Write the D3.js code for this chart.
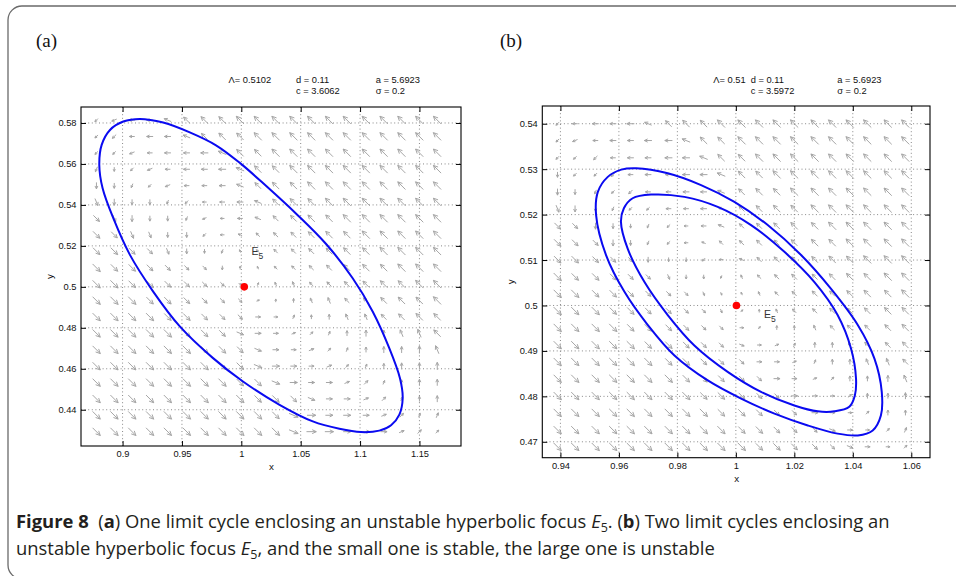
<!DOCTYPE html>
<html>
<head>
<meta charset="utf-8">
<script src="https://cdn.jsdelivr.net/npm/d3@7"></script>
<style>
body { margin: 0; background: #fff; }
svg { display: block; }
text { font-family: "Liberation Sans", Arial, sans-serif; }
</style>
</head>
<body>
<svg id="fig" width="956" height="576"></svg>
<script>

// ---- panel (a) data ----
var xTicksA = [0.9, 0.95, 1, 1.05, 1.1, 1.15];
var yTicksA = [0.44, 0.46, 0.48, 0.5, 0.52, 0.54, 0.56, 0.58];
var gridXA = [0.878, 0.893, 0.908, 0.923, 0.938, 0.954, 0.969, 0.984, 0.999, 1.014,
              1.029, 1.044, 1.059, 1.074, 1.089, 1.105, 1.120, 1.135, 1.150, 1.165];
var gridYA = [0.5814, 0.5734, 0.5654, 0.5574, 0.5494, 0.5414, 0.5334, 0.5254, 0.5174, 0.5093,
              0.5013, 0.4933, 0.4853, 0.4773, 0.4693, 0.4613, 0.4533, 0.4453, 0.4373, 0.4293];
// arrow direction per cell, hex digit k -> k*22.5 deg (0 = east, 4 = north)
var dirA = [
  "a9887666666666666666",
  "aa888766666666666666",
  "aa988887666666666666",
  "bca98888766666666666",
  "ccba9888766666666666",
  "dcccba88876666666666",
  "edcccb98876666666666",
  "eeddcca8766666666666",
  "eeeedccb566666666666",
  "eeeeeeec456666666666",
  "eeeeeeeef35566666666",
  "eeeeeeeee14455666666",
  "eeeeeeeee00344556666",
  "eeeeeeeef00123444556",
  "eeeeeeeeef0012344445",
  "eeeeeeeeef0001234444",
  "eeeeeeeeeef000123444",
  "eeeeeeeeeeeef0012344",
  "eeeeeeeeeeef00001233",
  "eeeeeeeeeeef00000122"
];
// arrow length per cell, 0..9
var lenA = [
  "34556788999999999999",
  "34455678899999999999",
  "33445567889999999999",
  "43344556788999999999",
  "54334445678899999999",
  "65443334567889999999",
  "76544333456788999999",
  "87654433345678899999",
  "88765433234567889999",
  "98876543223456788999",
  "99887654223445678899",
  "99988765422345567889",
  "99998876543334556788",
  "99999887654333455678",
  "99999988765443345567",
  "99999998876544334556",
  "99999999887655443455",
  "99999999988765544345",
  "99999999998876654434",
  "99999999999887665443"
];
var cycleA = [
  [0.9146, 0.5820], [0.9342, 0.5802], [0.9566, 0.5754], [0.9787, 0.5691], [1.0000, 0.5599],
  [1.0210, 0.5492], [1.0462, 0.5357], [1.0714, 0.5209], [1.0938, 0.5042], [1.1106, 0.4880],
  [1.1246, 0.4701], [1.1336, 0.4554], [1.1359, 0.4457], [1.1331, 0.4376], [1.1261, 0.4324],
  [1.1162, 0.4298], [1.1008, 0.4291], [1.0826, 0.4307], [1.0602, 0.4343], [1.0322, 0.4424],
  [1.0014, 0.4538], [0.9762, 0.4652], [0.9482, 0.4807], [0.9258, 0.4977], [0.9062, 0.5156],
  [0.8922, 0.5335], [0.8832, 0.5481], [0.8804, 0.5595], [0.8824, 0.5693], [0.8894, 0.5766],
  [0.9006, 0.5807]
];
var focusA = [1.0025, 0.5];
var paramsA = [["\u039b= 0.5102", "d = 0.11", "a = 5.6923"], ["", "c = 3.6062", "\u03c3 = 0.2"]];

// ---- panel (b) data ----
var xTicksB = [0.94, 0.96, 0.98, 1, 1.02, 1.04, 1.06];
var yTicksB = [0.47, 0.48, 0.49, 0.5, 0.51, 0.52, 0.53, 0.54];
var gridXB = [0.939, 0.945, 0.952, 0.958, 0.964, 0.970, 0.977, 0.983, 0.989, 0.995,
              1.002, 1.008, 1.014, 1.020, 1.027, 1.033, 1.039, 1.045, 1.052, 1.058];
var gridYB = [0.5400, 0.5363, 0.5325, 0.5288, 0.5250, 0.5213, 0.5175, 0.5138, 0.5101, 0.5063,
              0.5026, 0.4988, 0.4951, 0.4913, 0.4876, 0.4839, 0.4801, 0.4764, 0.4726, 0.4689];
var dirB = [
  "a8888766666666666666",
  "a9888887666666666666",
  "aaa88888766666666666",
  "caaa8888876666666666",
  "ccbaa888876666666666",
  "dccbaa88876666666666",
  "eecccba8876666666666",
  "eeeccba8766666666666",
  "eeeeeccca87666666666",
  "eeeeeedccb5666666666",
  "eeeeeeeedd5566666666",
  "eeeeeeeeed2456666666",
  "eeeeeeeeee0244566666",
  "eeeeeeeeeef013445666",
  "eeeeeeeeeee001344556",
  "eeeeeeeeeeee00124445",
  "eeeeeeeeeeeee0002444",
  "eeeeeeeeeeeeee000244",
  "eeeeeeeeeeeeeeef0023",
  "eeeeeeeeeeeeeeeef002"
];
var lenB = [
  "34556678899999999999",
  "34455667889999999999",
  "33445566788999999999",
  "43344556678899999999",
  "54334445567889999999",
  "65433344556788999999",
  "76543333455678899999",
  "87654333345667889999",
  "88765433334566788999",
  "98876543323456678899",
  "99887654322345667889",
  "99988765432234566788",
  "99998876543233456678",
  "99999887654333445667",
  "99999988765443344566",
  "99999998876554334456",
  "99999999887655433445",
  "99999999988765543344",
  "99999999998876554334",
  "99999999999887655433"
];
var cycleBOuter = [
  [0.9659, 0.5302], [0.9767, 0.5291], [0.9881, 0.5265], [0.9995, 0.5228], [1.0109, 0.5177],
  [1.0223, 0.5111], [1.0325, 0.5037], [1.0417, 0.4957], [1.0474, 0.4883], [1.0499, 0.4810],
  [1.0496, 0.4758], [1.0468, 0.4725], [1.0417, 0.4714], [1.0348, 0.4718], [1.0246, 0.4736],
  [1.0132, 0.4762], [1.0018, 0.4795], [0.9904, 0.4835], [0.9790, 0.4890], [0.9699, 0.4957],
  [0.9619, 0.5030], [0.9556, 0.5111], [0.9522, 0.5199], [0.9528, 0.5250], [0.9562, 0.5283],
  [0.9608, 0.5299]
];
var cycleBInner = [
  [0.9710, 0.5244], [0.9824, 0.5239], [0.9938, 0.5217], [1.0052, 0.5177], [1.0166, 0.5118],
  [1.0268, 0.5052], [1.0348, 0.4979], [1.0394, 0.4905], [1.0411, 0.4839], [1.0407, 0.4802],
  [1.0388, 0.4777], [1.0337, 0.4767], [1.0280, 0.4767], [1.0200, 0.4780], [1.0086, 0.4810],
  [0.9972, 0.4854], [0.9858, 0.4912], [0.9767, 0.4979], [0.9687, 0.5052], [0.9630, 0.5125],
  [0.9607, 0.5184], [0.9617, 0.5214], [0.9647, 0.5236]
];
var focusB = [1.0002, 0.5];
var paramsB = [["\u039b= 0.51", "d = 0.11", "a = 5.6923"], ["", "c = 3.5972", "\u03c3 = 0.2"]];

var captionLines = [
  [["Figure 8", "b"], ["  (", ""], ["a", "b"], [") One limit cycle enclosing an unstable hyperbolic focus ", ""],
   ["E", "i"], ["5", "s"], [". (", ""], ["b", "b"], [") Two limit cycles enclosing an", ""]],
  [["unstable hyperbolic focus ", ""], ["E", "i"], ["5", "s"],
   [", and the small one is stable, the large one is unstable", ""]]
];

var svg = d3.select("#fig");

// outer frame of the figure
svg.append("rect")
    .attr("x", 8).attr("y", 6)
    .attr("width", 1000).attr("height", 573)
    .attr("rx", 14)
    .attr("fill", "none")
    .attr("stroke", "#6a6a6a")
    .attr("stroke-width", 1.3);

function fmt(v) {
    return String(+v.toFixed(3));
}

function drawPanel(p) {
    var x = d3.scaleLinear().domain(p.xDomain).range([p.left, p.right]);
    var y = d3.scaleLinear().domain(p.yDomain).range([p.bottom, p.top]);
    var g = svg.append("g");

    // dotted grid
    g.selectAll("line.gx").data(p.xTicks).enter().append("line")
        .attr("x1", d => x(d)).attr("x2", d => x(d))
        .attr("y1", p.top).attr("y2", p.bottom)
        .attr("stroke", "#7a7a7a").attr("stroke-width", 0.9)
        .attr("stroke-dasharray", "1,2.6");
    g.selectAll("line.gy").data(p.yTicks).enter().append("line")
        .attr("y1", d => y(d)).attr("y2", d => y(d))
        .attr("x1", p.left).attr("x2", p.right)
        .attr("stroke", "#7a7a7a").attr("stroke-width", 0.9)
        .attr("stroke-dasharray", "1,2.6");

    // quiver arrows
    var arrows = [];
    p.dirs.forEach(function(row, i) {
        for (var j = 0; j < row.length; j++) {
            arrows.push({
                x: p.gridX[j], y: p.gridY[i],
                a: parseInt(row[j], 16) * 22.5,
                l: +p.lens[i][j]
            });
        }
    });
    g.selectAll("path.arrow").data(arrows).enter().append("path")
        .attr("d", function(d) {
            var L = d.l * 1.1 + 1;
            var r = d.a * Math.PI / 180;
            var ux = Math.cos(r), uy = -Math.sin(r);
            var cx = x(d.x), cy = y(d.y);
            var tx = cx - ux * L / 2, ty = cy - uy * L / 2;
            var hx = cx + ux * L / 2, hy = cy + uy * L / 2;
            var h = 0.38 * L + 0.8, s = 0.45;
            var c = Math.cos(s), sn = Math.sin(s);
            var b1x = hx - h * (ux * c - uy * sn), b1y = hy - h * (uy * c + ux * sn);
            var b2x = hx - h * (ux * c + uy * sn), b2y = hy - h * (uy * c - ux * sn);
            return "M" + tx + "," + ty + "L" + hx + "," + hy +
                   "M" + b1x + "," + b1y + "L" + hx + "," + hy + "L" + b2x + "," + b2y;
        })
        .attr("fill", "none")
        .attr("stroke", "#a6a6a6")
        .attr("stroke-width", 1);

    // limit cycles
    var line = d3.line()
        .x(d => x(d[0])).y(d => y(d[1]))
        .curve(d3.curveCatmullRomClosed.alpha(0.5));
    p.cycles.forEach(function(c) {
        g.append("path").attr("d", line(c))
            .attr("fill", "none")
            .attr("stroke", "#0a0af0")
            .attr("stroke-width", 2);
    });

    // equilibrium E5
    g.append("circle")
        .attr("cx", x(p.focus[0])).attr("cy", y(p.focus[1]))
        .attr("r", 3.8).attr("fill", "#ff0000");
    var lab = g.append("text")
        .attr("x", p.eLabel[0]).attr("y", p.eLabel[1])
        .attr("font-size", 10.5).attr("fill", "#333");
    lab.append("tspan").text("E");
    lab.append("tspan").attr("font-size", 8.5).attr("dy", 3.5).text("5");

    // axes with inward ticks (box style)
    var bottom = g.append("g").attr("transform", "translate(0," + p.bottom + ")")
        .call(d3.axisBottom(x).tickValues(p.xTicks).tickSize(-5).tickPadding(4.5).tickFormat(fmt));
    var top = g.append("g").attr("transform", "translate(0," + p.top + ")")
        .call(d3.axisTop(x).tickValues(p.xTicks).tickSize(-5).tickFormat(""));
    var left = g.append("g").attr("transform", "translate(" + p.left + ",0)")
        .call(d3.axisLeft(y).tickValues(p.yTicks).tickSize(-5).tickPadding(4.5).tickFormat(fmt));
    var right = g.append("g").attr("transform", "translate(" + p.right + ",0)")
        .call(d3.axisRight(y).tickValues(p.yTicks).tickSize(-5).tickFormat(""));
    [bottom, top, left, right].forEach(function(a) {
        a.select(".domain").remove();
        a.attr("font-family", null).attr("font-size", 9.3);
        a.selectAll("line").attr("stroke", "#000");
        a.selectAll("text").attr("fill", "#111");
    });

    g.append("rect")
        .attr("x", p.left).attr("y", p.top)
        .attr("width", p.right - p.left).attr("height", p.bottom - p.top)
        .attr("fill", "none").attr("stroke", "#000").attr("stroke-width", 1.1);

    // axis titles
    g.append("text").attr("x", (p.left + p.right) / 2 + 0.5).attr("y", p.bottom + 24)
        .attr("text-anchor", "middle").attr("font-size", 9.8).attr("fill", "#111").text("x");
    g.append("text")
        .attr("transform", "translate(" + (p.left - 28.5) + "," + ((p.top + p.bottom) / 2) + ") rotate(-90)")
        .attr("text-anchor", "middle").attr("font-size", 9.8).attr("fill", "#111").text("y");

    // parameter block
    p.params.forEach(function(row, i) {
        row.forEach(function(t, k) {
            g.append("text")
                .attr("x", p.paramX[k]).attr("y", 83 + i * 11)
                .attr("font-size", 9.3).attr("fill", "#111").text(t);
        });
    });

    // panel letter
    svg.append("text")
        .attr("x", p.tag[0]).attr("y", p.tag[1])
        .style("font-family", "'Liberation Serif', serif")
        .attr("font-size", 19).attr("fill", "#111").text(p.tagText);
}

drawPanel({
    xDomain: [0.865, 1.185], yDomain: [0.4223, 0.5878],
    left: 81, right: 461, top: 107, bottom: 446,
    xTicks: xTicksA, yTicks: yTicksA,
    gridX: gridXA, gridY: gridYA, dirs: dirA, lens: lenA,
    cycles: [cycleA], focus: focusA, eLabel: [251.5, 255],
    params: paramsA, paramX: [228.5, 296, 375.7],
    tag: [36, 47], tagText: "(a)"
});

drawPanel({
    xDomain: [0.9338, 1.0664], yDomain: [0.4665, 0.5439],
    left: 542.3, right: 930, top: 106, bottom: 457.7,
    xTicks: xTicksB, yTicks: yTicksB,
    gridX: gridXB, gridY: gridYB, dirs: dirB, lens: lenB,
    cycles: [cycleBOuter, cycleBInner], focus: focusB, eLabel: [764, 318],
    params: paramsB, paramX: [713.3, 750.7, 837.3],
    tag: [500, 47], tagText: "(b)"
});

// caption
captionLines.forEach(function(segs, i) {
    var t = svg.append("text")
        .attr("x", 16).attr("y", 528 + i * 27)
        .style("font-family", "'Open Sans', sans-serif")
        .style("white-space", "pre")
        .attr("font-size", 18.4).attr("fill", "#231f20");
    var shifted = false;
    segs.forEach(function(s) {
        var sp = t.append("tspan").text(s[0]);
        if (shifted) { sp.attr("dy", -4); shifted = false; }
        if (s[1] === "b") sp.attr("font-weight", 700);
        if (s[1] === "i") sp.attr("font-style", "italic");
        if (s[1] === "s") { sp.attr("font-size", 12.5).attr("dy", 4); shifted = true; }
    });
});

</script>
</body>
</html>
